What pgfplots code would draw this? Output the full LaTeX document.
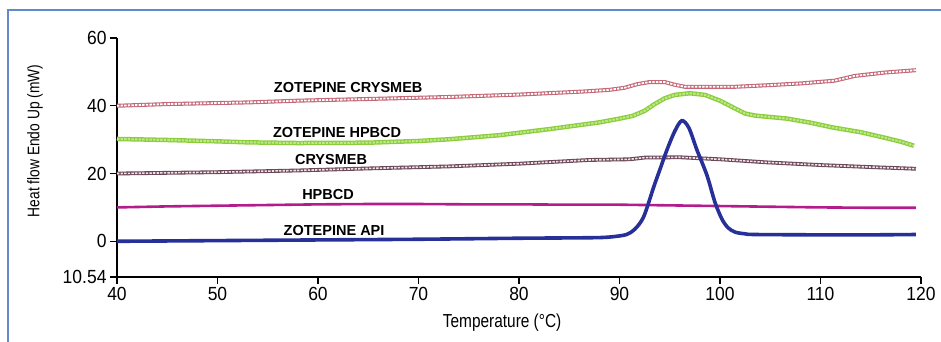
\documentclass[border=0pt]{standalone}
\usepackage{fontspec}
\setmainfont{Liberation Sans}
\newfontfamily\narrowfont{Liberation Sans}[FakeStretch=0.82]
\newfontfamily\tickfont{Liberation Sans}[FakeStretch=0.92]
\usepackage{pgfplots}
\pgfplotsset{compat=1.18}
\definecolor{frameblue}{RGB}{95,140,200}
\definecolor{rosec}{RGB}{196,104,118}
\definecolor{greenc}{RGB}{140,205,60}
\definecolor{greenin}{RGB}{190,232,140}
\definecolor{mauvec}{RGB}{105,72,88}
\definecolor{mauvein}{RGB}{245,225,232}
\definecolor{magc}{RGB}{178,28,140}
\definecolor{bluec}{RGB}{38,48,152}
\begin{document}
\begin{tikzpicture}
\useasboundingbox (0,0) rectangle (941bp,342bp);
\draw[color=frameblue, line width=2bp] (8bp,-2bp) -- (8bp,332bp) -- (945bp,332bp);
\begin{axis}[
  at={(117bp,65bp)}, anchor=south west,
  scale only axis, width=804bp, height=239bp,
  xmin=40, xmax=120, ymin=-10.54, ymax=60,
  axis lines=left, axis line style={-, line width=1.3bp, black},
  tick align=outside, major tick length=7bp,
  tick style={line width=1.2bp, black},
  xtick={40,50,...,120},
  ytick={-10.54,0,20,40,60},
  yticklabels={10.54,0,20,40,60},
  /pgf/number format/assume math mode=true,
  xticklabel style={font=\tickfont\fontsize{19bp}{21bp}\selectfont},
  yticklabel style={font=\tickfont\fontsize{19bp}{21bp}\selectfont},
  xlabel={Temperature (°C)},
  ylabel={Heat flow Endo Up (mW)},
  xlabel style={font=\narrowfont\fontsize{18.8bp}{20bp}\selectfont, at={(axis description cs:0.479,0)}, anchor=center, yshift=-46bp},
  ylabel style={font=\narrowfont\fontsize{16.8bp}{18bp}\selectfont, at={(axis description cs:-0.102,0.569)}, anchor=center},
  clip=false,
]
% ZOTEPINE CRYSMEB
\addplot[draw=rosec, line width=4bp, postaction={draw=white, line width=1.8bp, dash pattern=on 2.4bp off 1.2bp}] coordinates {
(40,40.0) (45,40.5) (50,40.8) (53.2,41.0) (58,41.5) (65,42.0) (73.1,42.6) (80,43.3) (86.4,44.2) (89,44.7) (90.5,45.3) (91.8,46.4) (93,47.0) (94.5,47.0) (95.5,46.2) (96.5,45.6) (101.5,45.6) (105,46.1) (108.1,46.6) (111.4,47.4) (113.4,48.8) (116.4,49.8) (119.5,50.5)
};
% ZOTEPINE HPBCD
\addplot[draw=greenc, line width=4.5bp, postaction={draw=greenin, line width=2bp, dash pattern=on 2.4bp off 1.2bp}] coordinates {
(40,30.2) (45,29.9) (50,29.5) (53,29.2) (58,29.0) (65,29.1) (70,29.6) (73,30.1) (78,31.3) (83,33.1) (86,34.3) (88,35.1) (90,36.2) (91.3,37.0) (92.5,38.5) (93.5,40.5) (94.5,42.2) (95.5,43.2) (97,43.7) (98.5,43.2) (100,41.5) (101.5,39.2) (102.5,37.7) (103.5,37.1) (106.7,36.2) (109,35.0) (111.2,33.6) (114,32.2) (116.2,30.7) (118,29.4) (119.3,28.2)
};
% CRYSMEB
\addplot[draw=mauvec, line width=3.8bp, postaction={draw=mauvein, line width=1.6bp, dash pattern=on 2.4bp off 1.2bp}] coordinates {
(40,20.0) (45,20.2) (50,20.4) (58,20.9) (65,21.5) (73,22.1) (80,22.9) (87,24.0) (91,24.2) (92.5,24.7) (96,24.8) (100,24.2) (104.6,23.3) (110,22.5) (115,21.9) (119.5,21.4)
};
% HPBCD
\addplot[draw=magc, line width=2.6bp] coordinates {
(40,10.0) (45,10.3) (50,10.5) (55,10.7) (60,10.9) (65,11.0) (70,11.0) (75,10.9) (80,10.9) (85,10.8) (90,10.8) (95,10.6) (100,10.4) (105,10.2) (110,10.0) (115,9.9) (119.5,9.9)
};
% ZOTEPINE API
\addplot[draw=bluec, line width=3.6bp, smooth, tension=0.5] coordinates {
(40,0.0) (50,0.2) (60,0.4) (70,0.6) (80,0.9) (85,1.0) (88.1,1.1) (89.5,1.4) (90.7,2.0) (91.5,3.5) (92.4,7.2) (93.4,16) (94.0,21) (94.7,26.8) (95.5,32.5) (96.2,35.6) (96.9,33.5) (97.7,27) (98.7,19.5) (99.5,11.5) (100.2,6.5) (100.8,4.0) (101.5,2.7) (102.5,2.2) (103.5,2.0) (110,1.9) (115,1.9) (119.5,2.0)
};
\node[font=\bfseries\fontsize{14.5bp}{16bp}\selectfont] at (axis cs:63,45.3) {ZOTEPINE CRYSMEB};
\node[font=\bfseries\fontsize{14.5bp}{16bp}\selectfont] at (axis cs:61.9,32.1) {ZOTEPINE HPBCD};
\node[font=\bfseries\fontsize{14.5bp}{16bp}\selectfont] at (axis cs:61.3,24.0) {CRYSMEB};
\node[font=\bfseries\fontsize{14.5bp}{16bp}\selectfont] at (axis cs:61.0,13.8) {HPBCD};
\node[font=\bfseries\fontsize{14.5bp}{16bp}\selectfont] at (axis cs:61.6,3.2) {ZOTEPINE API};
\end{axis}
\end{tikzpicture}
\end{document}
